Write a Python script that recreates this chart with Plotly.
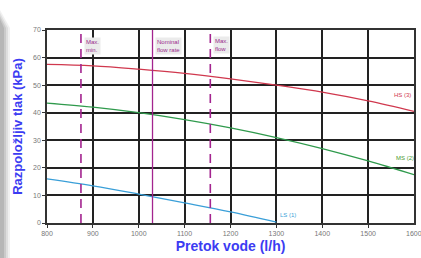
import plotly.graph_objects as go

flow = [800, 900, 1000, 1100, 1200, 1300, 1400, 1500, 1600]
hs = [57.5, 57.0, 55.8, 54.3, 52.3, 50.0, 47.5, 44.3, 40.5]
ms = [43.5, 42.0, 40.0, 37.5, 34.5, 31.0, 27.0, 22.5, 17.5]
ls_flow = [800, 900, 1000, 1100, 1200, 1300]
ls = [16.0, 13.5, 10.5, 7.3, 4.0, 0.3]

max_min = 874
nominal = 1030
max_flow = 1156

x_ticks = [800, 900, 1000, 1100, 1200, 1300, 1400, 1500, 1600]
y_ticks = [0, 10, 20, 30, 40, 50, 60, 70]

W, H = 421, 258
L, R, T, B = 47, 7, 30, 35
pw, ph = W - L - R, H - T - B

def px(x):
    return (x - L) / pw

def py(y):
    return 1 - (y - T) / ph

fig = go.Figure()
fig.add_trace(go.Scatter(x=flow, y=hs, mode="lines", line=dict(color="#d0384e", width=1.3, shape="spline"), hoverinfo="skip"))
fig.add_trace(go.Scatter(x=flow, y=ms, mode="lines", line=dict(color="#2f9a4c", width=1.3, shape="spline"), hoverinfo="skip"))
fig.add_trace(go.Scatter(x=ls_flow, y=ls, mode="lines", line=dict(color="#3a9fd8", width=1.3, shape="spline"), hoverinfo="skip"))

shapes = []
# left shadow of rounded panel
for i, (w, op) in enumerate([(9, 0.10), (7, 0.14), (5, 0.18), (3, 0.22)]):
    shapes.append(dict(type="path", xref="paper", yref="paper",
                       path=f"M {px(0)} {py(10+i*3)} L {px(w+1)} {py(28)} L {px(w+1)} {py(258)} L {px(0)} {py(258)} Z",
                       fillcolor="#707070", opacity=op, line=dict(width=0), layer="below"))
# white panel with rounded corners
shapes.append(dict(type="path", xref="paper", yref="paper",
                   path=(f"M {px(10)} {py(40)} Q {px(10)} {py(9)} {px(42)} {py(9)} L {px(421)} {py(9)} "
                         f"L {px(421)} {py(258)} L {px(20)} {py(258)} Q {px(12)} {py(250)} {px(10)} {py(235)} Z"),
                   fillcolor="white", line=dict(width=0), layer="below"))

for xv, dash, wd in [(max_min, "dash", 1.6), (nominal, "solid", 1.3), (max_flow, "dash", 1.6)]:
    shapes.append(dict(type="line", xref="x", yref="paper", x0=xv, x1=xv, y0=0, y1=1,
                       line=dict(color="#a3248f", width=wd, dash=dash if dash == "solid" else "9px,6px")))

fig.update_layout(shapes=shapes)

ann_font = dict(family="Liberation Sans, Arial", size=6, color="#9a2a8c")
fig.add_annotation(x=max_min + 6, y=67.5, text="Max.<br>min.", showarrow=False, xanchor="left", yanchor="top",
                   font=ann_font, bgcolor="#ebebeb", align="left")
fig.add_annotation(x=nominal + 6, y=67.5, text="Nominal<br>flow rate", showarrow=False, xanchor="left", yanchor="top",
                   font=ann_font, bgcolor="#ebebeb", align="left")
fig.add_annotation(x=max_flow + 6, y=68, text="Max.<br>flow", showarrow=False, xanchor="left", yanchor="top",
                   font=ann_font, bgcolor="#ebebeb", align="left")

fig.add_annotation(x=1575, y=46.5, text="HS (3)", showarrow=False, font=dict(family="Liberation Sans, Arial", size=6, color="#d0384e"))
fig.add_annotation(x=1580, y=23.5, text="MS (2)", showarrow=False, font=dict(family="Liberation Sans, Arial", size=6, color="#4a9a30"))
fig.add_annotation(x=1325, y=2.8, text="LS (1)", showarrow=False, font=dict(family="Liberation Sans, Arial", size=6, color="#3a9fd8"))

tick_font = dict(family="Liberation Sans, Arial", size=7, color="#777")
# last x tick label, cut at the right edge as in the reference
fig.add_annotation(x=x_ticks[-1], y=0, yref="paper", yshift=-10, text=str(x_ticks[-1]), showarrow=False,
                   font=tick_font, xanchor="center", yanchor="middle")

axis_common = dict(showline=True, linecolor="#333", linewidth=1.5, mirror=True,
                   gridcolor="#222", gridwidth=1.5, zeroline=False, automargin=False,
                   tickfont=tick_font, ticks="outside", ticklen=3, tickcolor="#333")

fig.update_xaxes(range=[800, 1600], tickvals=x_ticks[:-1], ticktext=[str(v) for v in x_ticks[:-1]],
                 title=dict(text="<b>Pretok vode (l/h)</b>", standoff=5,
                            font=dict(family="Liberation Sans, Arial", size=14, color="#3c3cf2")),
                 **axis_common)
fig.update_yaxes(range=[0, 70], tickvals=y_ticks, ticktext=[str(v) for v in y_ticks],
                 title=dict(text="<b>Razpoložljiv tlak (kPa)</b>", standoff=8,
                            font=dict(family="Liberation Sans, Arial", size=13, color="#3c3cf2")),
                 **axis_common)

fig.update_layout(width=W, height=H, margin=dict(l=L, r=R, t=T, b=B),
                  paper_bgcolor="white", plot_bgcolor="#ebebeb", showlegend=False)

fig.write_html("out.html", config={"displayModeBar": False},
               post_script="document.body.style.margin='0';document.body.style.overflow='hidden';")
